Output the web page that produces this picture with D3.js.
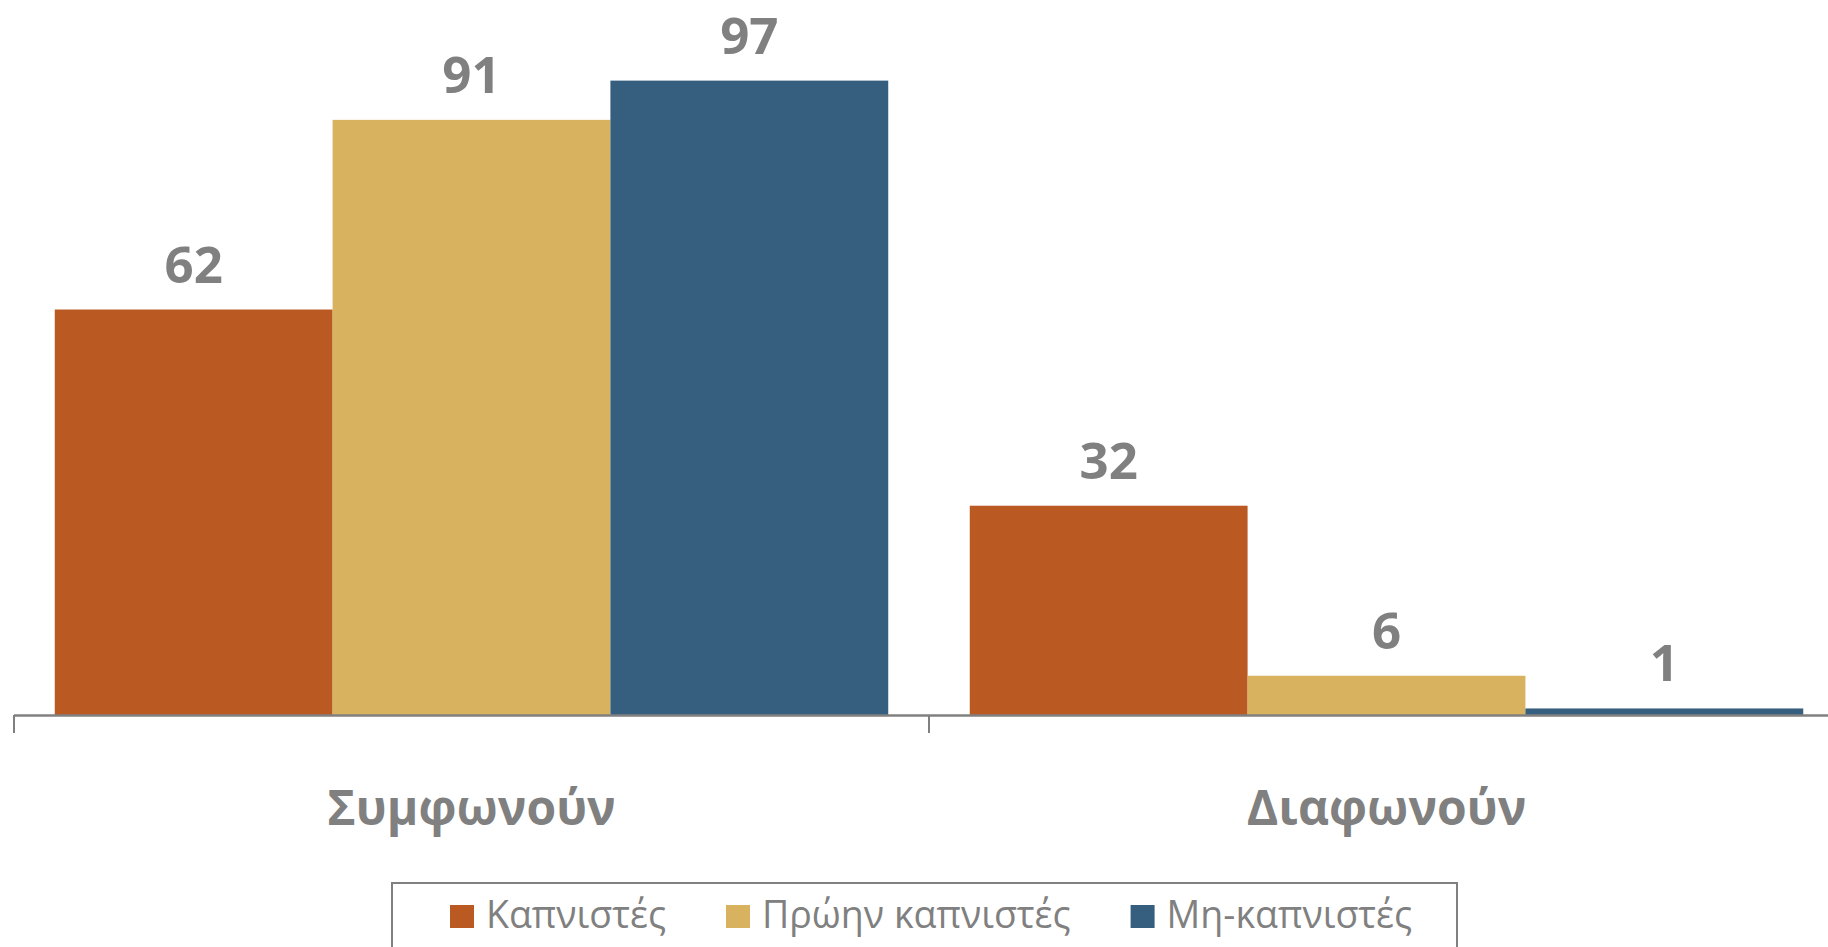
<!DOCTYPE html>
<html>
<head>
<meta charset="utf-8">
<script src="https://cdn.jsdelivr.net/npm/d3@7"></script>
<style>
  body { margin: 0; background: #fff; }
  svg { display: block; font-family: "Open Sans", sans-serif; }
</style>
</head>
<body>
<svg width="1828" height="947"></svg>
<script>
  // data
  const categories = ["Συμφωνούν", "Διαφωνούν"];
  const seriesNames = ["Καπνιστές", "Πρώην καπνιστές", "Μη-καπνιστές"];
  const smokers = [62, 32];
  const formerSmokers = [91, 6];
  const nonSmokers = [97, 1];
  const seriesValues = [smokers, formerSmokers, nonSmokers];
  const colorList = ["#BA5A22", "#D8B25E", "#365E7E"];

  const svg = d3.select("svg");
  const grey = "#808080";

  const x0 = d3.scaleBand().domain(categories).range([14, 1844]).paddingInner(0).paddingOuter(0);
  const x1 = d3.scaleBand().domain(seriesNames).range([0, x0.bandwidth()]).paddingOuter(0.1467).paddingInner(0);
  const y = d3.scaleLinear().domain([0, 100]).range([715, 61]);
  const color = d3.scaleOrdinal().domain(seriesNames).range(colorList);

  const rows = [];
  categories.forEach((c, i) => {
    seriesNames.forEach((s, j) => rows.push({ cat: c, series: s, value: seriesValues[j][i] }));
  });

  const bars = svg.append("g");
  bars.selectAll("rect").data(rows).enter().append("rect")
      .attr("x", d => x0(d.cat) + x1(d.series))
      .attr("y", d => y(d.value))
      .attr("width", x1.bandwidth())
      .attr("height", d => y(0) - y(d.value))
      .attr("fill", d => color(d.series));

  bars.selectAll("text").data(rows).enter().append("text")
      .attr("x", d => x0(d.cat) + x1(d.series) + x1.bandwidth() / 2)
      .attr("y", d => y(d.value) - 27)
      .attr("text-anchor", "middle")
      .attr("font-size", 51)
      .attr("font-weight", 700)
      .attr("fill", grey)
      .text(d => d.value);

  // x axis
  const xAxis = svg.append("g").attr("transform", `translate(0,${y(0)})`)
      .call(d3.axisBottom(x0).tickSize(0).tickFormat(""));
  xAxis.select(".domain").attr("stroke", grey).attr("stroke-width", 2.5).attr("d", "M14,0.5H1844");
  const bounds = categories.map(c => x0(c)).concat([x0.range()[1]]);
  xAxis.selectAll(".sep").data(bounds).enter().append("line")
      .attr("x1", d => d).attr("x2", d => d)
      .attr("y1", 0).attr("y2", 18)
      .attr("stroke", grey).attr("stroke-width", 2);

  svg.append("g").selectAll("text").data(categories).enter().append("text")
      .attr("x", d => x0(d) + x0.bandwidth() / 2)
      .attr("y", 825)
      .attr("text-anchor", "middle")
      .attr("font-size", 48)
      .attr("font-weight", 700)
      .attr("fill", grey)
      .text(d => d);

  // legend
  const legend = svg.append("g");
  legend.append("rect")
      .attr("x", 392).attr("y", 883)
      .attr("width", 1065).attr("height", 80)
      .attr("fill", "none").attr("stroke", grey).attr("stroke-width", 2);

  let lx = 450;
  seriesNames.forEach(s => {
    const item = legend.append("g");
    item.append("rect").attr("x", lx).attr("y", 905).attr("width", 24).attr("height", 23)
        .attr("fill", color(s));
    const t = item.append("text").attr("x", lx + 36).attr("y", 928)
        .attr("font-size", 37.5).attr("fill", grey).text(s);
    lx += 36 + t.node().getComputedTextLength() + 60;
  });
</script>
</body>
</html>
